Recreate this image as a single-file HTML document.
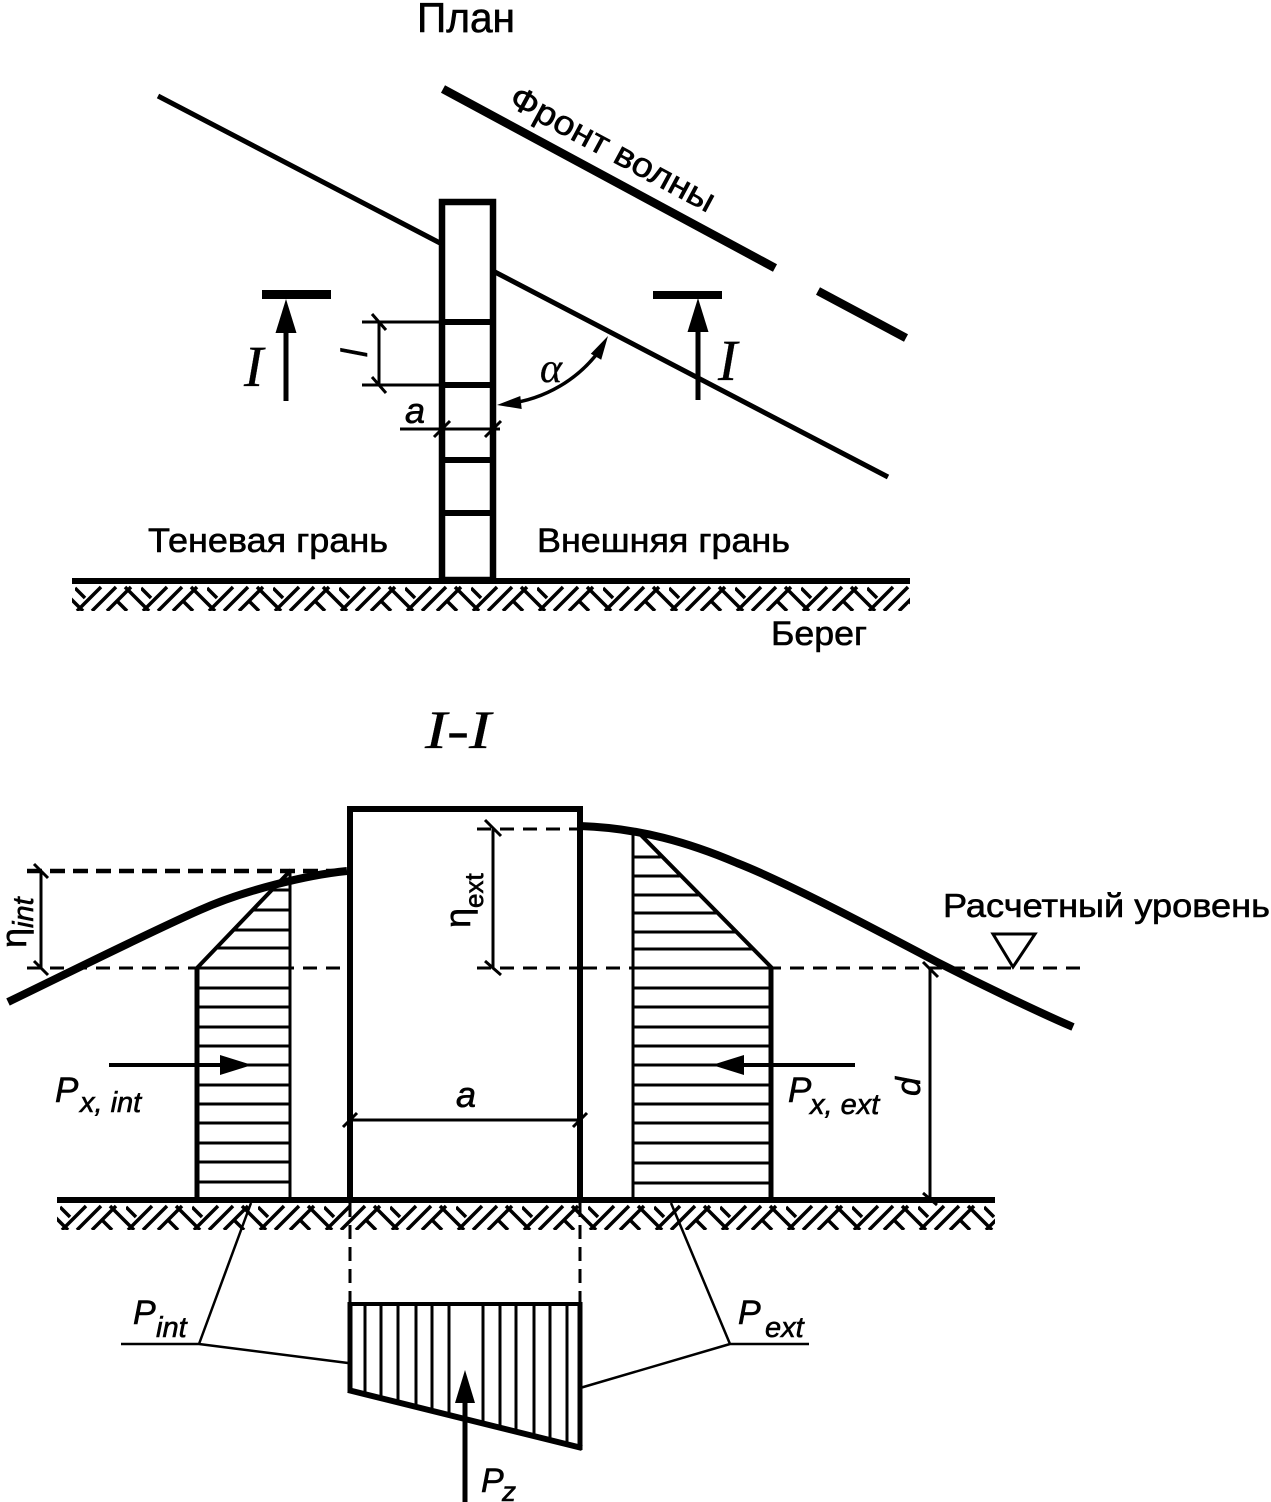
<!DOCTYPE html>
<html><head><meta charset="utf-8"><style>
html,body{margin:0;padding:0;background:#fff;}
svg{display:block;}
text{font-family:"Liberation Sans",sans-serif;fill:#000;stroke:#000;stroke-width:0.6;}
.it{font-style:italic;}
.sr{font-family:"Liberation Serif",serif;font-style:italic;stroke-width:0.3;}
</style></head><body>
<svg width="1271" height="1502" viewBox="0 0 1271 1502" xmlns="http://www.w3.org/2000/svg">
<defs>
<pattern id="h1" x="75" y="584" width="66" height="27" patternUnits="userSpaceOnUse">
 <g stroke="#000" stroke-width="3.5" fill="none">
  <path d="M0,4 L10,14 M2,27 L26,3 M17,27 L41,3 M32,27 L56,3 M50,3 L74,27 M-16,3 L8,27 M42,17 L52,27"/>
 </g>
</pattern>
<pattern id="h2" x="60" y="1203" width="66" height="27" patternUnits="userSpaceOnUse">
 <g stroke="#000" stroke-width="3.5" fill="none">
  <path d="M0,4 L10,14 M2,27 L26,3 M17,27 L41,3 M32,27 L56,3 M50,3 L74,27 M-16,3 L8,27 M42,17 L52,27"/>
 </g>
</pattern>
</defs>

<!-- ================= PLAN ================= -->
<text x="417" y="32" font-size="42" textLength="98" lengthAdjust="spacingAndGlyphs">План</text>

<g stroke="#000" stroke-width="5" fill="none">
 <path d="M158,96 L440,243"/>
 <path d="M493,271 L888,477"/>
</g>
<g stroke="#000" stroke-width="8.5" fill="none">
 <path d="M443,89 L775,268"/>
 <path d="M818,291 L906,338"/>
</g>
<text transform="translate(507,105) rotate(28.3)" font-size="34" textLength="228" lengthAdjust="spacingAndGlyphs">Фронт волны</text>

<g stroke="#000" fill="none">
 <rect x="442" y="202" width="51" height="378" stroke-width="6.5"/>
 <path d="M442,322 L493,322 M442,385 L493,385 M442,460 L493,460 M442,513 L493,513" stroke-width="6"/>
</g>

<g stroke="#000" stroke-width="3" fill="none">
 <path d="M362,322 L442,322 M362,385 L442,385 M379,322 L379,385"/>
 <path d="M372,314 L386,330 M372,377 L386,393"/>
</g>
<text class="it" transform="translate(367,353) rotate(-90)" font-size="36" text-anchor="middle">l</text>

<g stroke="#000" stroke-width="3" fill="none">
 <path d="M400,429 L500,429"/>
 <path d="M434,437 L450,421 M485,437 L501,421"/>
</g>
<text class="it" x="405" y="423" font-size="36">a</text>

<rect x="262" y="290" width="69" height="9" fill="#000"/>
<path d="M286,330 L286,401" stroke="#000" stroke-width="5"/>
<polygon points="286,299 275.5,333 296.5,333" fill="#000"/>
<text class="sr" x="244" y="386" font-size="58">I</text>

<rect x="653" y="291" width="69" height="8" fill="#000"/>
<path d="M698,330 L698,400" stroke="#000" stroke-width="5"/>
<polygon points="698,298 687.5,332 708.5,332" fill="#000"/>
<text class="sr" x="718" y="380" font-size="58">I</text>

<path d="M505,404 A134,134 0 0 0 602,347" stroke="#000" stroke-width="3.5" fill="none"/>
<polygon points="497,405 521.7,409 520.3,396" fill="#000"/>
<polygon points="608,336 601.2,359.8 590.8,353.8" fill="#000"/>
<text class="sr" x="540" y="382" font-size="42">α</text>

<rect x="72" y="584" width="838" height="27" fill="url(#h1)"/>
<path d="M72,581 L910,581" stroke="#000" stroke-width="6"/>

<text x="148" y="552" font-size="34" textLength="240" lengthAdjust="spacingAndGlyphs">Теневая грань</text>
<text x="537" y="552" font-size="34" textLength="253" lengthAdjust="spacingAndGlyphs">Внешняя грань</text>
<text x="771" y="645" font-size="34" textLength="96" lengthAdjust="spacingAndGlyphs">Берег</text>

<!-- ================= SECTION I-I ================= -->
<text class="sr" x="425" y="748" font-size="54" textLength="66" lengthAdjust="spacingAndGlyphs">I-I</text>

<g stroke="#000" fill="none">
 <path d="M27,871 L347,871" stroke-width="4.5" stroke-dasharray="15 8"/>
 <path d="M27,968 L347,968" stroke-width="3" stroke-dasharray="14 9"/>
 <path d="M477,829 L577,829" stroke-width="3" stroke-dasharray="14 9"/>
 <path d="M477,968 L577,968" stroke-width="3" stroke-dasharray="14 9"/>
 <path d="M583,968 L1088,968" stroke-width="3" stroke-dasharray="14 9"/>
</g>

<g stroke="#000" fill="none">
 <path d="M197,968 L197,1198" stroke-width="5"/>
 <path d="M197,968 L291,870" stroke-width="4"/>
 <path d="M290,871 L290,1198" stroke-width="3"/>
 <g stroke-width="3">
  <path d="M271.8,890 L290,890 M252.6,910 L290,910 M233.4,930 L290,930 M216.2,948 L290,948"/>
  <path d="M197,968 L290,968 M197,988 L290,988 M197,1007 L290,1007 M197,1027 L290,1027 M197,1046 L290,1046 M197,1065 L290,1065 M197,1085 L290,1085 M197,1104 L290,1104 M197,1123 L290,1123 M197,1143 L290,1143 M197,1162 L290,1162 M197,1182 L290,1182"/>
 </g>
 <path d="M109,1065 L225,1065" stroke-width="4"/>
</g>
<polygon points="252,1065 220,1055 220,1075" fill="#000"/>
<text class="it" x="55" y="1102" font-size="35">P</text>
<text class="it" x="80" y="1112" font-size="29">x, int</text>

<g stroke="#000" fill="none">
 <path d="M633,830 L633,1198" stroke-width="3"/>
 <path d="M771,968 L771,1198" stroke-width="5"/>
 <path d="M636,830 L772,968" stroke-width="4"/>
 <g stroke-width="3">
  <path d="M633,857 L660.8,857 M633,876 L679.7,876 M633,895 L698.5,895 M633,913 L716.4,913 M633,932 L735.3,932 M633,949 L752.1,949"/>
  <path d="M633,968 L771,968 M633,988 L771,988 M633,1007 L771,1007 M633,1027 L771,1027 M633,1046 L771,1046 M633,1065 L771,1065 M633,1085 L771,1085 M633,1104 L771,1104 M633,1123 L771,1123 M633,1143 L771,1143 M633,1163 L771,1163 M633,1183 L771,1183"/>
 </g>
 <path d="M855,1065 L740,1065" stroke-width="4"/>
</g>
<polygon points="712,1065 744,1055 744,1075" fill="#000"/>
<text class="it" x="788" y="1102" font-size="35">P</text>
<text class="it" x="810" y="1114" font-size="29">x, ext</text>

<rect x="350" y="809" width="230" height="391" stroke="#000" stroke-width="6" fill="none"/>

<g stroke="#000" stroke-width="8" fill="none" stroke-linecap="butt">
 <path d="M8,1002 C68,973 150,932 200,910 C245,890 307,875 347,871"/>
 <path d="M580,826 C640,828 690,843 737,863 C787,882.5 882,933 937,962 C982,985 1038,1012 1073,1027"/>
</g>

<g stroke="#000" stroke-width="3" fill="none">
 <path d="M41,871 L41,968"/>
 <path d="M34,864 L48,878 M34,961 L48,975"/>
</g>
<text transform="translate(26,948) rotate(-90)" font-size="36">η<tspan class="it" font-size="29" dy="7">int</tspan></text>

<g stroke="#000" stroke-width="3" fill="none">
 <path d="M493,829 L493,968"/>
 <path d="M485,820 L501,836 M485,961 L501,975"/>
</g>
<text transform="translate(470,928) rotate(-90)" font-size="36">η<tspan font-size="26" dy="13">ext</tspan></text>

<g stroke="#000" stroke-width="3" fill="none">
 <path d="M930,968 L930,1198"/>
 <path d="M923,962 L938,977 M923,1193 L937,1205"/>
</g>
<text class="it" transform="translate(920,1096) rotate(-90)" font-size="34">d</text>

<text x="943" y="917" font-size="33" textLength="327" lengthAdjust="spacingAndGlyphs">Расчетный уровень</text>
<polygon points="993,934 1035,934 1013,967" stroke="#000" stroke-width="3" fill="none"/>

<g stroke="#000" stroke-width="3" fill="none">
 <path d="M350,1120 L580,1120"/>
 <path d="M343,1127 L357,1113 M573,1127 L587,1113"/>
</g>
<text class="it" x="456" y="1107" font-size="36">a</text>

<rect x="57" y="1203" width="938" height="27" fill="url(#h2)"/>
<path d="M57,1200 L995,1200" stroke="#000" stroke-width="6"/>

<g stroke="#000" fill="none">
 <path d="M350,1203 L350,1304 M580,1203 L580,1304" stroke-width="3" stroke-dasharray="14 8"/>
 <path d="M348,1304 L582,1304" stroke-width="4"/>
 <path d="M350,1302 L350,1392" stroke-width="5"/>
 <path d="M580,1302 L580,1450" stroke-width="5"/>
 <path d="M348,1390 L582,1448" stroke-width="6"/>
 <g stroke-width="3">
  <path d="M365,1304 L365,1394 M381,1304 L381,1398 M398,1304 L398,1402 M416,1304 L416,1407 M432,1304 L432,1411 M449,1304 L449,1415 M483,1304 L483,1424 M500,1304 L500,1428 M516,1304 L516,1432 M534,1304 L534,1436 M550,1304 L550,1440 M567,1304 L567,1445"/>
 </g>
 <path d="M465,1502 L465,1400" stroke-width="5"/>
 <g stroke-width="2.5">
  <path d="M121,1344 L199,1344 M199,1344 L348,1363 M199,1344 L251,1203"/>
  <path d="M730,1344 L809,1344 M730,1344 L580,1388 M730,1344 L671,1203"/>
 </g>
</g>
<polygon points="465,1370 455,1403 475,1403" fill="#000"/>

<text class="it" x="481" y="1492" font-size="34">P</text>
<text class="it" x="502" y="1501" font-size="28">z</text>
<text class="it" x="133" y="1324" font-size="34">P</text>
<text class="it" x="156" y="1337" font-size="29">int</text>
<text class="it" x="738" y="1324" font-size="34">P</text>
<text class="it" x="765" y="1337" font-size="29">ext</text>
</svg>
</body></html>
